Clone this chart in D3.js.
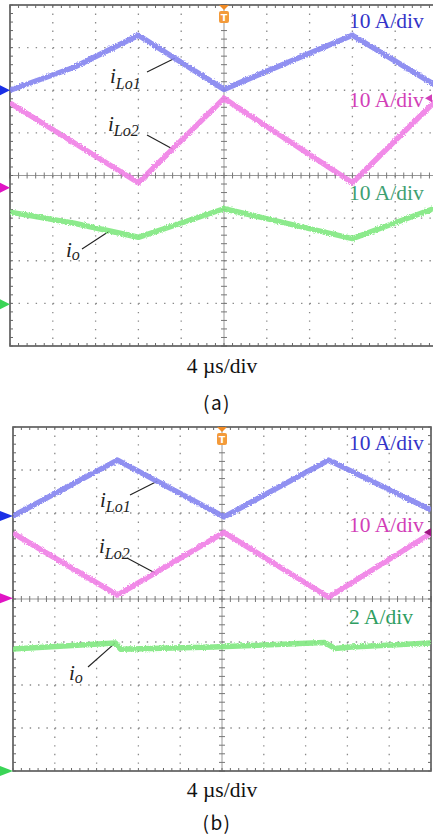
<!DOCTYPE html>
<html>
<head>
<meta charset="utf-8">
<script src="https://cdn.jsdelivr.net/npm/d3@7"></script>
<style>
  body { margin: 0; background: #fff; }
  svg { display: block; }
</style>
</head>
<body>
<svg id="chart" width="433" height="838"></svg>
<script>
// time axis: 10 div x 4 us
var timeDomain = [0, 40];
var timeTicks = [0, 4, 8, 12, 16, 20, 24, 28, 32, 36, 40];

// panel (a) waveforms, amps vs us
var aBlueT = [0, 6, 12, 20, 32, 40];
var aBlueA = [0, 5.4, 12.9, 0.2, 12.9, 0.8];
var aPinkT = [0, 12, 20, 32, 40];
var aPinkA = [19.9, 1.2, 21.0, 1.2, 21.0];
var aGreenT = [0, 6, 12, 20, 32, 40];
var aGreenA = [21.6, 19.0, 15.7, 22.4, 15.4, 22.8];

// panel (b) waveforms
var bBlueT = [0, 10, 20.2, 30.2, 40];
var bBlueA = [0, 13.0, -0.2, 13.0, 1.4];
var bPinkT = [0, 10, 20.2, 30.2, 40];
var bPinkA = [15.1, 0.7, 15.3, 0.2, 15.1];
var bGreenT = [0, 9.8, 10.3, 19.2, 29.8, 30.8, 32.4, 40];
var bGreenA = [5.67, 5.95, 5.66, 5.77, 5.98, 5.7, 5.77, 5.95];

// scale labels
var aScaleLabels = ["10 A/div", "10 A/div", "10 A/div"];
var bScaleLabels = ["10 A/div", "10 A/div", "2 A/div"];
var aAmpsPerDiv = [10, 10, 10];
var bAmpsPerDiv = [10, 10, 2];
var traceNames = [["i", "Lo1"], ["i", "Lo2"], ["i", "o"]];
var timeLabel = "4 \u00b5s/div";

var svg = d3.select("#chart");

var defs = svg.append("defs");
var f = defs.append("filter").attr("id", "fuzz")
    .attr("filterUnits", "userSpaceOnUse")
    .attr("x", 0).attr("y", 0).attr("width", 433).attr("height", 838);
f.append("feTurbulence").attr("type", "fractalNoise")
    .attr("baseFrequency", 0.9).attr("numOctaves", 1).attr("seed", 3).attr("result", "n");
f.append("feDisplacementMap").attr("in", "SourceGraphic").attr("in2", "n")
    .attr("scale", 3.5).attr("xChannelSelector", "R").attr("yChannelSelector", "G");

var traceColor = ["#8484f0", "#f07fe6", "#80e880"];
var markerColor = ["#1a2fe6", "#e014c4", "#3ad456"];

function valueAt(ts, vs, t) {
    var i = d3.bisectRight(ts, t) - 1;
    i = Math.max(0, Math.min(ts.length - 2, i));
    var k = (t - ts[i]) / (ts[i + 1] - ts[i]);
    return vs[i] + k * (vs[i + 1] - vs[i]);
}

function drawPanel(p) {
    var g = svg.append("g");
    var x = d3.scaleLinear().domain(timeDomain).range([p.left, p.left + p.width]);
    var yDiv = d3.scaleLinear().domain([-4, 4]).range([p.top + p.height, p.top]);
    var minorX = p.width / 50, minorY = p.height / 40;

    defs.append("clipPath").attr("id", "clip" + p.id)
        .append("rect").attr("x", p.left).attr("y", p.top)
        .attr("width", p.width).attr("height", p.height);

    // dotted grid
    g.selectAll("line.vg").data(timeTicks.filter(function (t) { return t > 0 && t < 40 && t != 20; }))
        .enter().append("line")
        .attr("x1", function (d) { return x(d); }).attr("x2", function (d) { return x(d); })
        .attr("y1", p.top).attr("y2", p.top + p.height)
        .attr("stroke", "#8a8a8a").attr("stroke-width", 1.3)
        .attr("stroke-dasharray", "1.4," + (minorY - 1.4));
    g.selectAll("line.hg").data([-3, -2, -1, 1, 2, 3])
        .enter().append("line")
        .attr("x1", p.left).attr("x2", p.left + p.width)
        .attr("y1", function (d) { return yDiv(d); }).attr("y2", function (d) { return yDiv(d); })
        .attr("stroke", "#8a8a8a").attr("stroke-width", 1.3)
        .attr("stroke-dasharray", "1.4," + (minorX - 1.4));

    // center axes with minor ticks
    var cy = yDiv(0), cx = x(20);
    g.append("line").attr("x1", p.left).attr("x2", p.left + p.width)
        .attr("y1", cy).attr("y2", cy).attr("stroke", "#999").attr("stroke-width", 1);
    g.append("line").attr("x1", cx).attr("x2", cx)
        .attr("y1", p.top).attr("y2", p.top + p.height).attr("stroke", "#999").attr("stroke-width", 1);
    var mt = d3.range(0, 40.001, 0.8);
    var md = d3.range(-4, 4.001, 0.2);
    g.selectAll("line.cxt").data(mt).enter().append("line")
        .attr("x1", function (d) { return x(d); }).attr("x2", function (d) { return x(d); })
        .attr("y1", cy - 3).attr("y2", cy + 3).attr("stroke", "#777");
    g.selectAll("line.cyt").data(md).enter().append("line")
        .attr("y1", function (d) { return yDiv(d); }).attr("y2", function (d) { return yDiv(d); })
        .attr("x1", cx - 3).attr("x2", cx + 3).attr("stroke", "#777");

    // border + inward ticks
    g.append("rect").attr("x", p.left).attr("y", p.top)
        .attr("width", p.width).attr("height", p.height)
        .attr("fill", "none").attr("stroke", "#555").attr("stroke-width", 1.6);
    g.selectAll("line.bt").data(mt).enter().append("line")
        .attr("x1", function (d) { return x(d); }).attr("x2", function (d) { return x(d); })
        .attr("y1", p.top).attr("y2", p.top + 3).attr("stroke", "#666");
    g.selectAll("line.bb").data(mt).enter().append("line")
        .attr("x1", function (d) { return x(d); }).attr("x2", function (d) { return x(d); })
        .attr("y1", p.top + p.height - 3).attr("y2", p.top + p.height).attr("stroke", "#666");
    g.selectAll("line.bl").data(md).enter().append("line")
        .attr("y1", function (d) { return yDiv(d); }).attr("y2", function (d) { return yDiv(d); })
        .attr("x1", p.left).attr("x2", p.left + 3).attr("stroke", "#666");
    g.selectAll("line.br").data(md).enter().append("line")
        .attr("y1", function (d) { return yDiv(d); }).attr("y2", function (d) { return yDiv(d); })
        .attr("x1", p.left + p.width - 3).attr("x2", p.left + p.width).attr("stroke", "#666");

    // channel scales (amps -> px)
    var ys = p.series.map(function (s, i) {
        return d3.scaleLinear()
            .domain([0, p.ampsPerDiv[i]])
            .range([yDiv(p.offsets[i]), yDiv(p.offsets[i] + 1)]);
    });

    // leaders
    p.series.forEach(function (s, i) {
        var L = p.leaders[i];
        var tx = x(L.t), ty = ys[i](valueAt(s.t, s.a, L.t));
        g.append("line").attr("x1", L.x0).attr("y1", L.y0)
            .attr("x2", tx).attr("y2", ty)
            .attr("stroke", "#222").attr("stroke-width", 1.1);
    });

    // traces
    var tg = g.append("g").attr("clip-path", "url(#clip" + p.id + ")");
    p.series.forEach(function (s, i) {
        var line = d3.line()
            .x(function (d) { return x(d[0]); })
            .y(function (d) { return ys[i](d[1]); });
        tg.append("path").datum(d3.zip(s.t, s.a))
            .attr("d", line)
            .attr("fill", "none")
            .attr("stroke", traceColor[i])
            .attr("stroke-width", 5.5)
            .attr("stroke-linejoin", "round")
            .attr("opacity", 0.9)
            .attr("filter", "url(#fuzz)");
    });

    // ground markers on the left
    p.series.forEach(function (s, i) {
        var my = ys[i](0);
        g.append("path")
            .attr("d", "M0," + (my - 5) + "L" + (p.left) + "," + my + "L0," + (my + 5) + "Z")
            .attr("fill", markerColor[i]);
    });

    // trigger level marker on the right (pink channel)
    var tly = ys[1](p.trigLevel);
    var rx = Math.min(p.left + p.width, 432);
    g.append("path")
        .attr("d", "M" + (rx - 7) + "," + tly + "L" + rx + "," + (tly - 4) + "L" + rx + "," + (tly + 4) + "Z")
        .attr("fill", p.trigColor);

    // trigger position marker on the top
    g.append("path")
        .attr("d", "M" + (cx - 5) + "," + p.top + "L" + (cx + 5) + "," + p.top + "L" + cx + "," + (p.top + 5) + "Z")
        .attr("fill", "#f08a24");
    g.append("rect").attr("x", cx - 5).attr("y", p.top + 6)
        .attr("width", 10).attr("height", 12).attr("rx", 2)
        .attr("fill", "#f39a3a");
    g.append("text").attr("x", cx).attr("y", p.top + 16)
        .attr("text-anchor", "middle")
        .attr("font-family", "DejaVu Sans").attr("font-weight", "bold")
        .attr("font-size", 9.5).attr("fill", "#fff").text("T");

    // scale labels
    var labelColor = ["#3434c8", "#d23fb8", p.greenText];
    p.scaleLabels.forEach(function (t, i) {
        g.append("text").attr("x", 349).attr("y", p.labelY[i])
            .attr("font-family", "Liberation Serif").attr("font-size", 21.5)
            .attr("fill", labelColor[i]).text(t);
    });

    // trace names
    p.series.forEach(function (s, i) {
        var L = p.leaders[i];
        var t = g.append("text").attr("x", L.lx).attr("y", L.ly)
            .attr("font-family", "Liberation Serif").attr("font-style", "italic")
            .attr("fill", "#222");
        t.append("tspan").attr("font-size", 21).text(traceNames[i][0]);
        t.append("tspan").attr("font-size", 16).attr("dy", L.dy).text(traceNames[i][1]);
    });

    // time/div and caption
    g.append("text").attr("x", 222).attr("y", p.timeY)
        .attr("text-anchor", "middle")
        .attr("font-family", "Liberation Serif").attr("font-size", 21.5)
        .attr("fill", "#111").text(timeLabel);
    g.append("text").attr("x", 217).attr("y", p.capY)
        .attr("text-anchor", "middle")
        .attr("font-family", "Noto Sans CJK KR").attr("font-size", 19)
        .attr("letter-spacing", 1.5)
        .attr("fill", "#111").text(p.caption);
}

drawPanel({
    id: "a", left: 10, top: 5, width: 428, height: 341,
    series: [{ t: aBlueT, a: aBlueA }, { t: aPinkT, a: aPinkA }, { t: aGreenT, a: aGreenA }],
    ampsPerDiv: aAmpsPerDiv,
    offsets: [2.0, -0.29, -3.02],
    scaleLabels: aScaleLabels,
    labelY: [28, 107, 200],
    greenText: "#3ea072",
    trigLevel: 21.0, trigColor: "#d23fb8",
    leaders: [
        { t: 15.4, x0: 147, y0: 72, lx: 110, ly: 83, dy: 6 },
        { t: 15.2, x0: 147, y0: 135, lx: 108, ly: 131, dy: 5 },
        { t: 9.3, x0: 82, y0: 249, lx: 66, ly: 257, dy: 3 }
    ],
    timeY: 373, capY: 410, caption: "(a)"
});

drawPanel({
    id: "b", left: 13, top: 427, width: 418, height: 344,
    series: [{ t: bBlueT, a: bBlueA }, { t: bPinkT, a: bPinkA }, { t: bGreenT, a: bGreenA }],
    ampsPerDiv: bAmpsPerDiv,
    offsets: [1.93, 0.02, -4],
    scaleLabels: bScaleLabels,
    labelY: [450, 532, 624],
    greenText: "#2f9e62",
    trigLevel: 15.3, trigColor: "#9c1480",
    leaders: [
        { t: 13.8, x0: 130, y0: 495, lx: 100, ly: 507, dy: 5 },
        { t: 13.6, x0: 127, y0: 558, lx: 99, ly: 553, dy: 6 },
        { t: 9.76, x0: 88, y0: 667, lx: 69, ly: 680, dy: 3 }
    ],
    timeY: 797, capY: 830, caption: "(b)"
});
</script>
</body>
</html>
